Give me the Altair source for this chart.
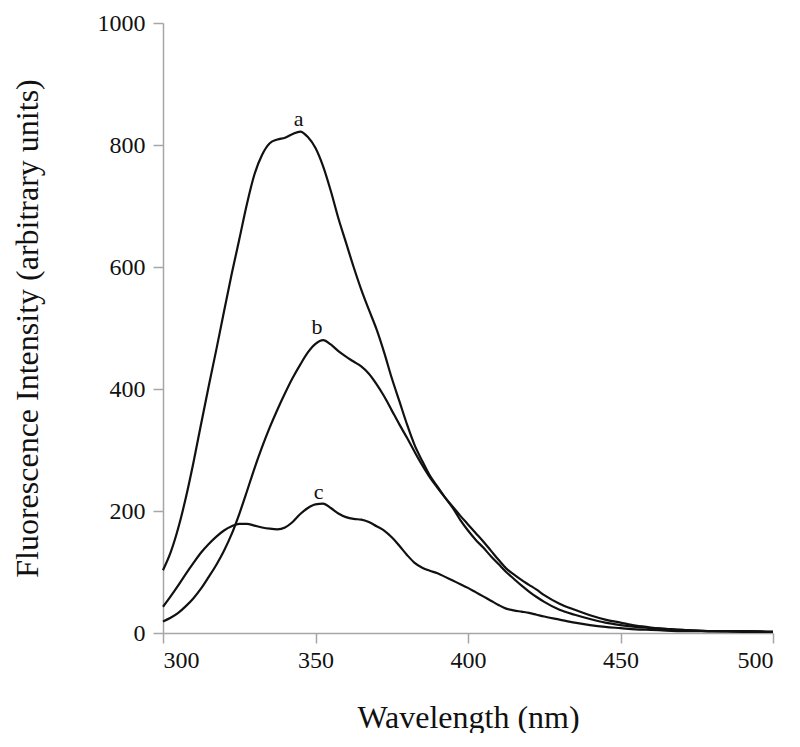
import altair as alt
import pandas as pd

wavelength = [300, 302.5, 305, 307.5, 310, 312.5, 315, 317.5, 320, 322.5,
              325, 327.5, 330, 332.5, 335, 337.5, 340, 342.5, 345, 347.5,
              350, 352.5, 355, 357.5, 360, 362.5, 365, 367.5, 370, 372.5,
              375, 377.5, 380, 382.5, 385, 387.5, 390, 392.5, 395, 397.5,
              400, 402.5, 405, 407.5, 410, 412.5, 415, 417.5, 420, 422.5,
              425, 430, 435, 440, 445, 450, 455, 460, 465, 470,
              475, 480, 490, 500]

series_a = [103, 132, 172, 222, 280, 343, 405, 465, 527, 588,
            645, 703, 752, 784, 803, 809, 812, 818, 822, 813,
            795, 765, 725, 680, 640, 600, 563, 530, 498, 460,
            418, 380, 342, 308, 282, 258, 240, 222, 205, 185,
            168, 153, 140, 126, 113, 100, 89, 78, 68, 59,
            51, 38, 30, 23, 17, 13, 10, 8, 6, 5,
            4, 3, 3, 2]

series_b = [19, 25, 33, 44, 57, 73, 92, 112, 135, 162,
            195, 232, 270, 305, 337, 366, 393, 418, 440, 460,
            474, 480, 473, 462, 453, 445, 437, 425, 408, 388,
            365, 342, 320, 297, 275, 255, 238, 222, 207, 192,
            178, 164, 150, 135, 120, 106, 96, 87, 79, 71,
            62, 48, 38, 29, 22, 17, 12, 9, 7, 5,
            4, 3, 3, 2]

series_c = [43, 60, 78, 97, 115, 132, 146, 158, 168, 175,
            179, 179, 176, 173, 171, 170, 173, 182, 195, 205,
            211, 212, 205, 196, 190, 187, 186, 182, 175, 168,
            157, 143, 128, 115, 107, 102, 98, 92, 86, 80,
            74, 67, 60, 53, 46, 40, 37, 35, 33, 30,
            27, 22, 17, 13, 10, 8, 6, 5, 4, 3,
            3, 3, 2, 2]

label_text = ["a", "b", "c"]
label_x = [344.5, 350.5, 351]
label_y = [843, 501, 231]

rows = []
for name, vals in (("a", series_a), ("b", series_b), ("c", series_c)):
    for w, v in zip(wavelength, vals):
        rows.append({"wavelength": w, "intensity": v, "series": name})
df = pd.DataFrame(rows)
labels_df = pd.DataFrame({"text": label_text, "x": label_x, "y": label_y})

FONT = "Liberation Serif"

x_scale = alt.Scale(domain=[300, 500], nice=False, zero=False)
y_scale = alt.Scale(domain=[0, 1000], nice=False)

lines = alt.Chart(df).mark_line(color="#111111", strokeWidth=2.2, interpolate="monotone").encode(
    x=alt.X("wavelength:Q", scale=x_scale,
            axis=alt.Axis(title="Wavelength (nm)", values=[300, 350, 400, 450, 500],
                          format="d", grid=False, tickSize=10, labelPadding=5,
                          titlePadding=30, titleFontSize=32, labelFontSize=24,
                          domainColor="#a6a6a6", tickColor="#a6a6a6", domainWidth=1.5, tickWidth=1.5,
                          labelColor="#111111", titleColor="#111111",
                          labelFont=FONT, titleFont=FONT, titleFontWeight="normal")),
    y=alt.Y("intensity:Q", scale=y_scale,
            axis=alt.Axis(title="Fluorescence Intensity (arbitrary units)",
                          values=[0, 200, 400, 600, 800, 1000], format="d", grid=False,
                          tickSize=10, labelPadding=8, titlePadding=53, titleFontSize=32,
                          labelFontSize=24, domainColor="#a6a6a6", tickColor="#a6a6a6",
                          domainWidth=1.5, tickWidth=1.5,
                          labelColor="#111111", titleColor="#111111",
                          labelFont=FONT, titleFont=FONT, titleFontWeight="normal")),
    detail="series:N",
)

texts = alt.Chart(labels_df).mark_text(font=FONT, fontSize=22, color="#111111",
                                       align="center", baseline="middle").encode(
    x=alt.X("x:Q", scale=x_scale),
    y=alt.Y("y:Q", scale=y_scale),
    text="text:N",
)

chart = alt.layer(lines, texts).properties(
    width=610, height=610,
    autosize=alt.AutoSizeParams(type="none"),
    padding={"left": 155, "top": 15, "right": 17, "bottom": 100},
).configure_view(stroke=None)

chart.save("out.html", embed_options={"renderer": "svg", "actions": False})
